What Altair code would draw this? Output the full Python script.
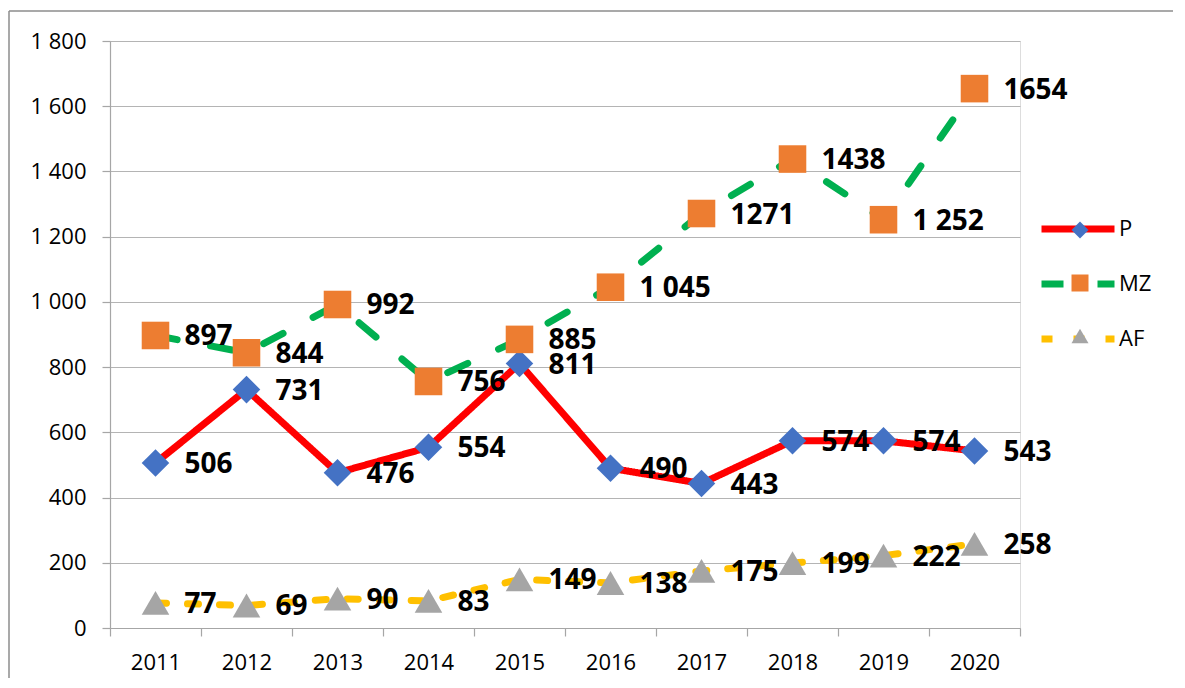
import altair as alt
import pandas as pd

years = ["2011", "2012", "2013", "2014", "2015", "2016", "2017", "2018", "2019", "2020"]
series_names = ["P", "MZ", "AF"]
p_vals = [506, 731, 476, 554, 811, 490, 443, 574, 574, 543]
mz_vals = [897, 844, 992, 756, 885, 1045, 1271, 1438, 1252, 1654]
af_vals = [77, 69, 90, 83, 149, 138, 175, 199, 222, 258]
p_labels = ["506", "731", "476", "554", "811", "490", "443", "574", "574", "543"]
mz_labels = ["897", "844", "992", "756", "885", "1 045", "1271", "1438", "1 252", "1654"]
af_labels = ["77", "69", "90", "83", "149", "138", "175", "199", "222", "258"]
y_ticks = [0, 200, 400, 600, 800, 1000, 1200, 1400, 1600, 1800]

line_colors = ["#FF0000", "#00B050", "#FFC000"]
marker_colors = ["#4472C4", "#ED7D31", "#A5A5A5"]
marker_shapes = ["diamond", "square", "triangle-up"]
dashes = [[1, 0], [22, 34], [11, 21]]

rows = []
for name, vals, labs in [("P", p_vals, p_labels), ("MZ", mz_vals, mz_labels), ("AF", af_vals, af_labels)]:
    for y, v, l in zip(years, vals, labs):
        rows.append({"series": name, "m": name, "year": y, "value": v, "label": l})
df = pd.DataFrame(rows)

FONT = "Open Sans"
W, H = 910, 587
PAD = {"left": 102, "top": 33, "right": 155, "bottom": 52}

x_enc = alt.X("year:N", sort=years,
              scale=alt.Scale(type="band", paddingInner=0, paddingOuter=0),
              axis=alt.Axis(title=None, tickBand="extent", labelFont=FONT, labelFontSize=22,
                            labelColor="#000000", labelAngle=0, labelPadding=16,
                            domainColor="#A6A6A6", tickColor="#A6A6A6", tickSize=8,
                            tickWidth=1.2, domainWidth=1.2, grid=False))
y_enc = alt.Y("value:Q", scale=alt.Scale(domain=[0, 1800], nice=False),
              axis=alt.Axis(title=None, values=y_ticks, labelFont=FONT, labelFontSize=22,
                            labelColor="#000000", labelPadding=16,
                            labelExpr="replace(format(datum.value, ','), ',', ' ')",
                            domainColor="#A6A6A6", tickColor="#A6A6A6", tickSize=8,
                            tickWidth=1.2, domainWidth=1.2,
                            grid=True, gridColor="#B4B4B4", gridWidth=1.2))

base = alt.Chart(df)

line_legend = alt.Legend(title=None, orient="none", legendX=928, legendY=148,
                         symbolType="stroke", symbolSize=5329, symbolStrokeWidth=7,
                         labelFont=FONT, labelFontSize=22, labelColor="#000000",
                         labelOffset=1, rowPadding=1, padding=0)
marker_legend = alt.Legend(title=None, orient="none", legendX=959, legendY=178,
                           symbolSize=289, labelOpacity=0, labelFontSize=22,
                           rowPadding=31, padding=0, symbolStrokeWidth=0)

lines = base.mark_line(strokeWidth=7, strokeCap="round", strokeJoin="round").encode(
    x=x_enc, y=y_enc,
    stroke=alt.Stroke("series:N", sort=series_names,
                      scale=alt.Scale(domain=series_names, range=line_colors),
                      legend=line_legend),
    strokeDash=alt.StrokeDash("series:N", sort=series_names,
                              scale=alt.Scale(domain=series_names, range=dashes),
                              legend=line_legend),
)

points = base.mark_point(filled=True, opacity=1, size=760).encode(
    x=x_enc, y=y_enc,
    fill=alt.Fill("m:N", sort=series_names,
                  scale=alt.Scale(domain=series_names, range=marker_colors),
                  legend=marker_legend),
    shape=alt.Shape("m:N", sort=series_names,
                    scale=alt.Scale(domain=series_names, range=marker_shapes),
                    legend=marker_legend),
)

texts = base.mark_text(align="left", baseline="middle", dx=29, dy=2, fontSize=28,
                       fontWeight="bold", font=FONT, color="#000000").encode(
    x=x_enc, y=y_enc, text="label:N")

frame_data = alt.Data(values=[{"a": 1}])
border_top = alt.Chart(frame_data).mark_rule(stroke="#8C8C8C", strokeWidth=1.5).encode(
    x=alt.value(-101), x2=alt.value(W + PAD["right"] - 2), y=alt.value(-30))
border_left = alt.Chart(frame_data).mark_rule(stroke="#8C8C8C", strokeWidth=1.5).encode(
    x=alt.value(-101), y=alt.value(-30), y2=alt.value(H + PAD["bottom"] - 2))

chart = alt.layer(border_top, border_left, lines, points, texts).resolve_scale(
    stroke="independent", fill="independent", shape="independent", strokeDash="independent"
).properties(
    width=W, height=H,
    autosize=alt.AutoSizeParams(type="none"),
    padding=PAD,
).configure_view(stroke=None).configure(background="#FFFFFF")

chart.save("out.html", embed_options={"renderer": "svg", "actions": False})
